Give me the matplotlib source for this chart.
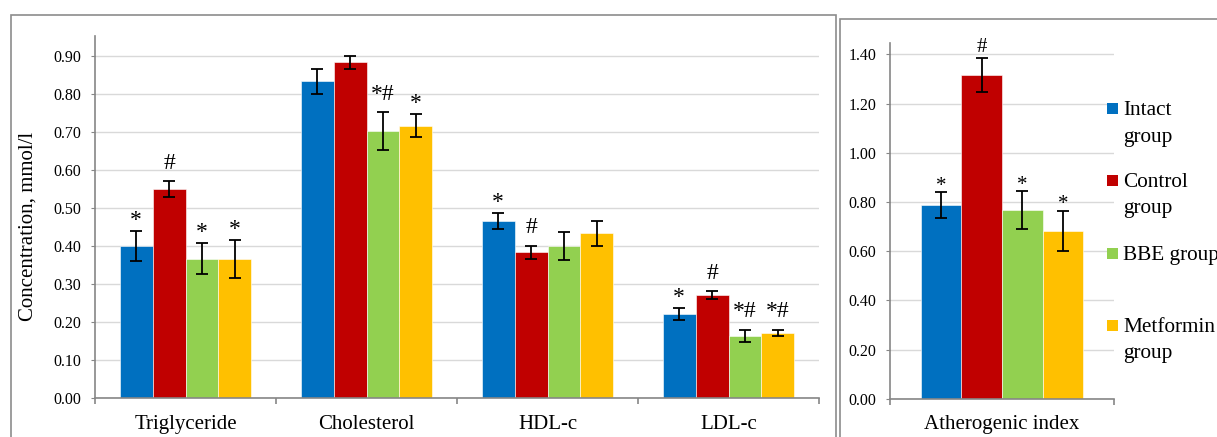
import matplotlib
matplotlib.use("Agg")
import matplotlib.pyplot as plt
import numpy as np
from matplotlib.patches import Rectangle

plt.rcParams['font.family'] = ['Liberation Serif', 'DejaVu Serif']

# data
categories = ["Triglyceride", "Cholesterol", "HDL-c", "LDL-c"]
groups = ["Intact\ngroup", "Control\ngroup", "BBE group", "Metformin\ngroup"]
colors = ["#0070C0", "#C00000", "#92D050", "#FFC000"]

intact = [0.400, 0.834, 0.467, 0.221]
intact_err = [0.040, 0.033, 0.021, 0.015]
control = [0.550, 0.884, 0.383, 0.271]
control_err = [0.020, 0.017, 0.017, 0.010]
bbe = [0.367, 0.702, 0.401, 0.164]
bbe_err = [0.041, 0.050, 0.037, 0.016]
metformin = [0.367, 0.717, 0.433, 0.171]
metformin_err = [0.050, 0.030, 0.034, 0.009]

intact_marks = ["*", "", "*", "*"]
control_marks = ["#", "", "#", "#"]
bbe_marks = ["*", "*#", "", "*#"]
metformin_marks = ["*", "*", "", "*#"]

athero_label = "Atherogenic index"
athero = [0.787, 1.316, 0.767, 0.682]
athero_err = [0.053, 0.070, 0.077, 0.083]
athero_marks = ["*", "#", "*", "*"]

W, H = 1217, 437
fig = plt.figure(figsize=(W / 100, H / 100), dpi=100)

GRID = "#d9d9d9"
SPINE = "#868686"
FRAME = "#8c8c8c"
bar_w = 0.727 / 4


def style_axis(ax, ymax, step, ylim_top):
    ax.set_ylim(0, ylim_top)
    ax.set_yticks(np.arange(0, ymax + step / 2, step))
    ax.yaxis.set_major_formatter(matplotlib.ticker.FormatStrFormatter('%.2f'))
    ax.grid(axis='y', color=GRID, linewidth=1.0)
    ax.set_axisbelow(True)
    for s in ['top', 'right']:
        ax.spines[s].set_visible(False)
    for s in ['left', 'bottom']:
        ax.spines[s].set_color(SPINE)
        ax.spines[s].set_linewidth(1.2)
    ax.tick_params(axis='y', length=3, color=SPINE, labelsize=11.5, pad=7)
    ax.tick_params(axis='x', which='major', length=0, labelsize=15, pad=12)
    ax.tick_params(axis='x', which='minor', length=4, color=SPINE, width=1.2)


def draw_group(ax, centers, vals, errs, marks, color, fs, hash_off, star_off):
    ax.bar(centers, vals, width=bar_w, color=color, edgecolor='white', linewidth=0.4, zorder=2)
    ax.errorbar(centers, vals, yerr=errs, fmt='none', ecolor='black',
                elinewidth=1.3, capsize=4.3, capthick=1.3, zorder=3)
    for x, v, e, m in zip(centers, vals, errs, marks):
        if m:
            off = hash_off if '#' in m else star_off
            ax.annotate(m, (x, v + e), xytext=(0, off), textcoords='offset points',
                        ha='center', va='baseline', fontsize=fs, zorder=4)


# left panel
axL = fig.add_axes([95 / W, 1 - 398 / H, (819 - 95) / W, (398 - 36) / H])
x = np.arange(len(categories))
series = [(intact, intact_err, intact_marks), (control, control_err, control_marks),
          (bbe, bbe_err, bbe_marks), (metformin, metformin_err, metformin_marks)]
for j, (vals, errs, marks) in enumerate(series):
    draw_group(axL, x + (j - 1.5) * bar_w, vals, errs, marks, colors[j], 17, 9, 3.5)
axL.set_xlim(-0.5, len(categories) - 0.5)
axL.set_xticks(x)
axL.set_xticklabels(categories)
axL.set_xticks(np.arange(len(categories) + 1) - 0.5, minor=True)
style_axis(axL, 0.90, 0.10, 0.9526)

fig.text(28 / W, 1 - 226 / H, "Concentration, mmol/l", rotation=90,
         ha='center', va='center', fontsize=15)

# right panel
axR = fig.add_axes([890 / W, 1 - 398.7 / H, (1114 - 890) / W, (398.7 - 43) / H])
xr = (np.arange(len(athero)) - 1.5) * bar_w
for j in range(len(athero)):
    draw_group(axR, [xr[j]], [athero[j]], [athero_err[j]], [athero_marks[j]],
               colors[j], 15, 4, 1)
axR.set_xlim(-0.5, 0.5)
axR.set_xticks([0])
axR.set_xticklabels([athero_label])
axR.set_xticks([-0.5, 0.5], minor=True)
style_axis(axR, 1.40, 0.20, 1.446)

# legend drawn by hand so the square sits on the first line
leg_base = [115, 186.7, 260, 331.7]
for j, name in enumerate(groups):
    for k, line in enumerate(name.split("\n")):
        fig.text(1123 / W, 1 - (leg_base[j] + 26.7 * k) / H, line,
                 ha='left', va='baseline', fontsize=15.3)
    fig.patches.append(Rectangle((1107 / W, 1 - (leg_base[j] - 1) / H), 11 / W, 11 / H,
                                 transform=fig.transFigure, facecolor=colors[j],
                                 edgecolor='none'))

# chart frames
fig.patches.append(Rectangle((11 / W, -0.1), (835.5 - 11) / W, 1.1 - 15 / H,
                             transform=fig.transFigure, fill=False,
                             edgecolor=FRAME, linewidth=1.2))
fig.patches.append(Rectangle((839.5 / W, -0.1), 0.5, 1.1 - 19 / H,
                             transform=fig.transFigure, fill=False,
                             edgecolor=FRAME, linewidth=1.2))

fig.savefig("out.png", dpi=100)
